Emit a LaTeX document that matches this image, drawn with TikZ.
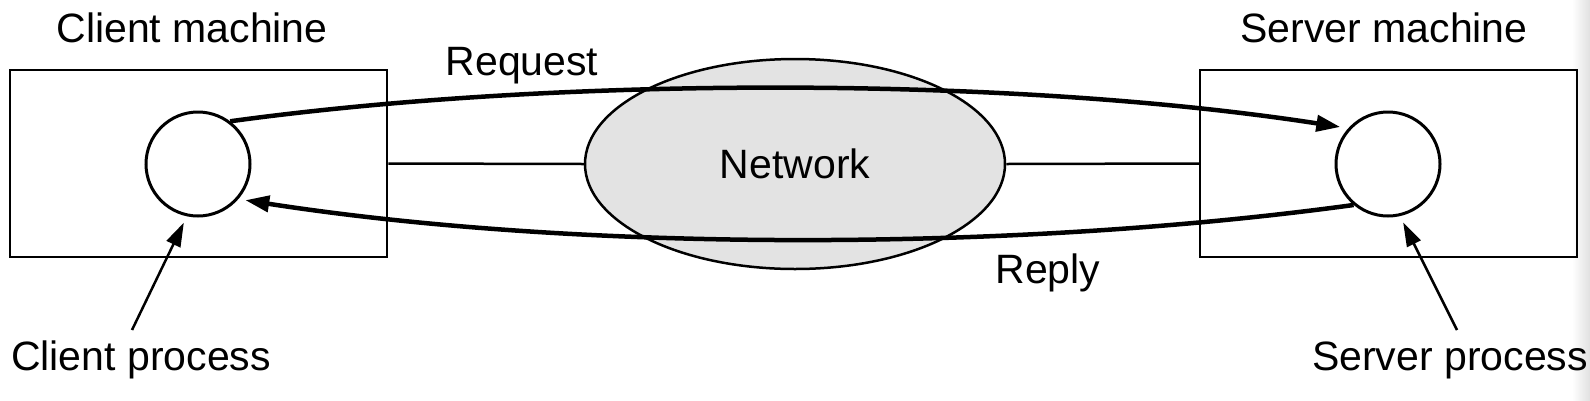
\documentclass[tikz,border=0pt]{standalone}
\usepackage{fontspec}
\setmainfont{Liberation Sans}
\usetikzlibrary{shapes.geometric,arrows.meta}
\definecolor{netgray}{HTML}{E3E3E3}
\tikzset{
  lbl/.style={font=\fontsize{41}{49}\selectfont, inner sep=0pt, anchor=base},
  machinebox/.style={draw, line width=2.5pt, minimum width=377pt, minimum height=187pt, inner sep=0pt},
  proc/.style={draw, circle, line width=3pt, minimum size=104pt, inner sep=0pt},
  netshape/.style={draw, ellipse, line width=2.5pt, fill=netgray, minimum width=420pt, minimum height=210pt, inner sep=0pt, font=\fontsize{41}{49}\selectfont},
  link/.style={line width=2.5pt},
  msgarrow/.style={line width=4.5pt, -{Triangle[length=24pt,width=16pt]}},
  pointer/.style={line width=2.5pt, -{Triangle[length=24pt,width=15pt]}}
}
\begin{document}
\begin{tikzpicture}[x=1pt,y=-1pt]
\useasboundingbox (0,0) rectangle (1590,400);
\fill[white] (0,0) rectangle (1590,400);
\shade[left color=white, right color=black!12, draw=none] (1572,0) rectangle (1590,400);
% machines
\node[machinebox] (cbox) at (198.5,163.5) {};
\node[machinebox] (sbox) at (1388.5,163.5) {};
\node[lbl] (cmach) at (192,42) {Client machine};
\node[lbl] (smach) at (1384,42) {Server machine};
% network
\node[netshape] (net) at (795,164) {Network};
% links
\draw[link] (cbox.east) -- (net.west);
\draw[link] (net.east) -- (sbox.west);
% processes
\node[proc] (cc) at (198,164) {};
\node[proc] (sc) at (1388,164) {};
% messages
\draw[msgarrow, shorten >=8pt] (cc.53) .. controls (560,76) and (1010,76) .. (sc.138);
\draw[msgarrow, shorten >=7pt] (sc.230) .. controls (1010,252) and (580,252) .. (cc.-41);
\node[lbl] (req) at (522,75) {Request};
\node[lbl] (rep) at (1048,283) {Reply};
% process labels
\node[lbl] (cproc) at (141,370) {Client process};
\node[lbl] (sproc) at (1450,370) {Server process};
\coordinate (cpt) at (132,330);
\coordinate (spt) at (1457,330);
\draw[pointer, shorten >=7pt] (cpt) -- (cc.258);
\draw[pointer, shorten >=7pt] (spt) -- (sc.-77);
\end{tikzpicture}
\end{document}
